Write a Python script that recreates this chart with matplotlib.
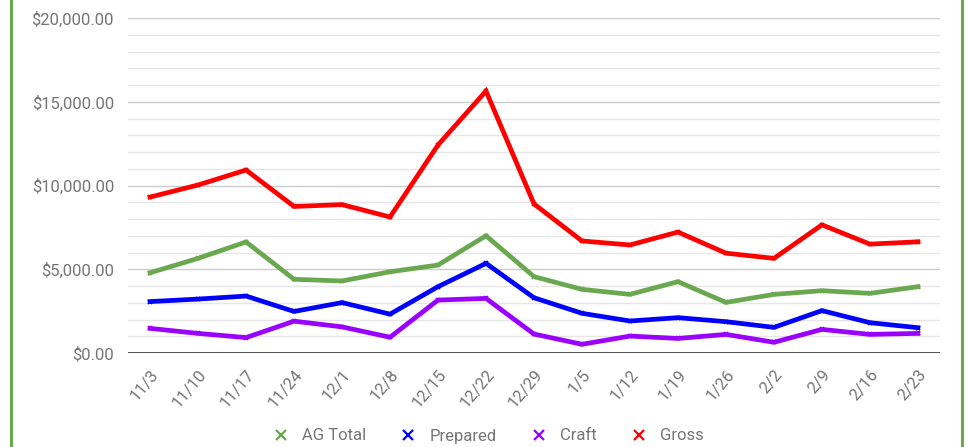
import matplotlib
matplotlib.use('Agg')
import matplotlib.pyplot as plt
from matplotlib.lines import Line2D
from matplotlib.ticker import MultipleLocator, FuncFormatter

plt.rcParams['font.family'] = ['Roboto', 'DejaVu Sans']

weeks = ['11/3', '11/10', '11/17', '11/24', '12/1', '12/8', '12/15', '12/22', '12/29',
         '1/5', '1/12', '1/19', '1/26', '2/2', '2/9', '2/16', '2/23']
ag_total = [4790, 5650, 6630, 4400, 4300, 4850, 5250, 7000, 4560,
            3800, 3500, 4260, 3020, 3500, 3720, 3560, 3960]
prepared = [3070, 3220, 3400, 2480, 3010, 2320, 3960, 5350, 3300,
            2370, 1910, 2110, 1870, 1530, 2530, 1810, 1510]
craft = [1470, 1170, 920, 1900, 1560, 940, 3160, 3260, 1130,
         520, 1010, 870, 1110, 640, 1410, 1110, 1170]
gross = [9310, 10030, 10925, 8750, 8860, 8120, 12420, 15640, 8900,
         6690, 6450, 7220, 5960, 5650, 7650, 6500, 6640]

series = [('AG Total', ag_total, '#6aa84f'),
          ('Prepared', prepared, '#0000ff'),
          ('Craft', craft, '#9900ff'),
          ('Gross', gross, '#ff0000')]

fig = plt.figure(figsize=(9.67, 4.47), dpi=100)
ax = fig.add_axes([128/967, 1-353/447, (940-128)/967, (353-18)/447])

x = list(range(len(weeks)))
for name, vals, col in series:
    ax.plot(x, vals, color=col, linewidth=3.4, marker='x', markersize=3.5,
            markeredgewidth=1.2, label=name, solid_joinstyle='miter', zorder=3)

ax.set_xlim(-0.46, len(weeks) - 1 + 0.46)
ax.set_ylim(0, 20000)
ax.yaxis.set_major_locator(MultipleLocator(5000))
ax.yaxis.set_minor_locator(MultipleLocator(1000))
ax.yaxis.set_major_formatter(FuncFormatter(lambda v, p: '${:,.2f}'.format(v)))
ax.grid(which='major', axis='y', color='#cccccc', linewidth=1)
ax.grid(which='minor', axis='y', color='#e6e6e6', linewidth=1)
ax.set_axisbelow(True)
ax.axhline(0, color='#333333', linewidth=1.2, zorder=2)
for s in ax.spines.values():
    s.set_visible(False)

ax.set_xticks(x)
ax.set_xticklabels(weeks, rotation=50, ha='right', rotation_mode='anchor')
ax.tick_params(axis='both', which='both', length=0, colors='#757575', labelsize=12)
ax.tick_params(axis='x', pad=10)
ax.tick_params(axis='y', pad=10)

leg = fig.legend(loc='center', bbox_to_anchor=(0.505, 1-436/447), ncol=4,
                 frameon=False, fontsize=12, handlelength=1.0, columnspacing=2.0,
                 handletextpad=0.8)
for h in leg.legend_handles:
    h.set_linestyle('none')
    h.set_markersize(7)
    h.set_markeredgewidth(1.6)
for t in leg.get_texts():
    t.set_color('#757575')

# green frame edges
fig.add_artist(Line2D([11/967, 11/967], [0, 1], color='#6aa84f', linewidth=2.2))
fig.add_artist(Line2D([962/967, 962/967], [0, 1], color='#6aa84f', linewidth=2.2))

fig.savefig('out.png', dpi=100)
